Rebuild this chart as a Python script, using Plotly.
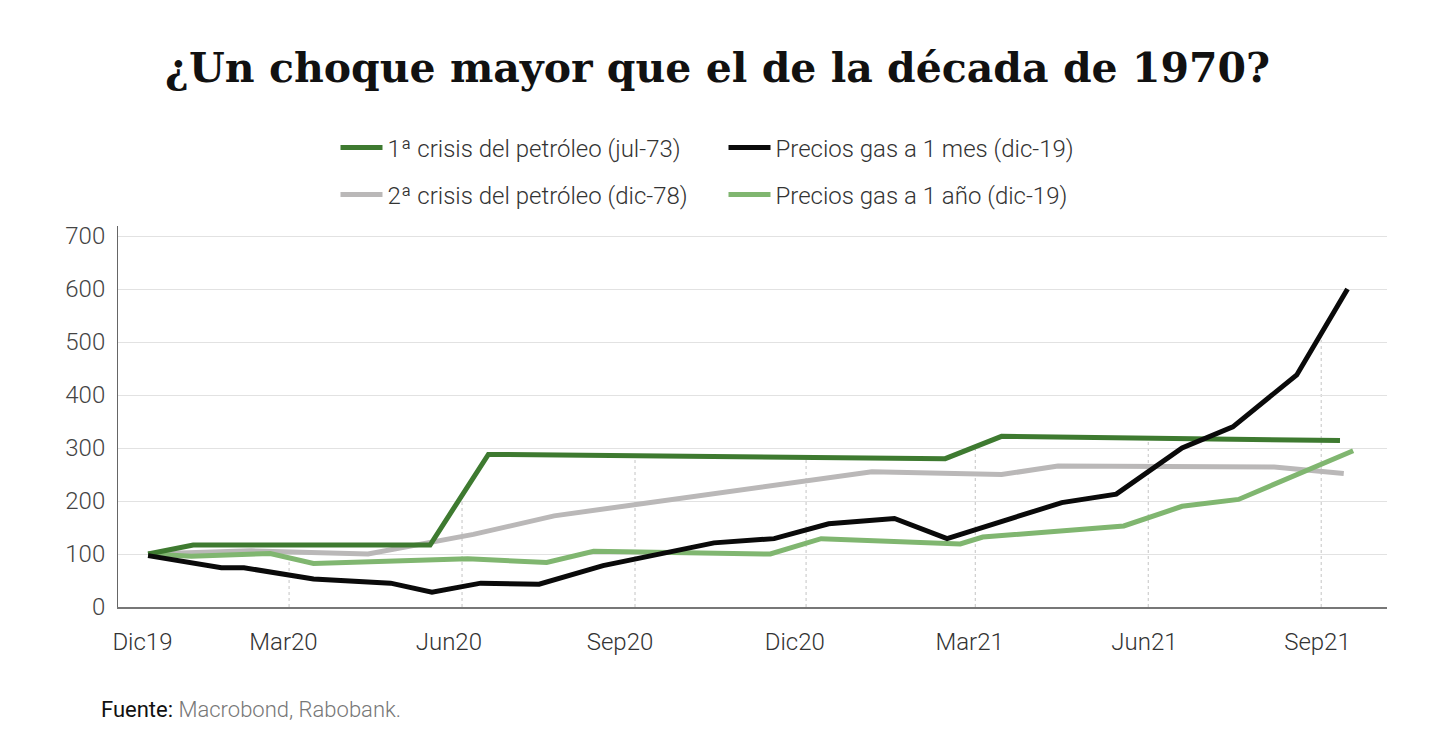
import plotly.graph_objects as go
import pandas as pd
import numpy as np

# ---- data ----
crisis1_dates = ["2019-12-17", "2020-01-10", "2020-05-15", "2020-06-15", "2021-02-13", "2021-03-15", "2021-09-11"]
crisis1_values = [100, 117, 117, 288, 280, 322, 314]

crisis2_dates = ["2019-12-17", "2020-02-10", "2020-04-12", "2020-06-07", "2020-07-20", "2021-01-05",
                 "2021-03-15", "2021-04-14", "2021-08-07", "2021-09-13"]
crisis2_values = [100, 106, 100, 137, 172, 255, 250, 266, 264, 252]

gas_month_dates = ["2019-12-17", "2020-01-25", "2020-02-06", "2020-03-14", "2020-04-24", "2020-05-16",
                   "2020-06-11", "2020-07-12", "2020-08-15", "2020-10-13", "2020-11-14", "2020-12-13",
                   "2021-01-17", "2021-02-14", "2021-04-16", "2021-05-15", "2021-06-19", "2021-07-16",
                   "2021-08-19", "2021-09-15"]
gas_month_values = [97, 74, 74, 53, 45, 28, 45, 43, 78, 121, 129, 157, 167, 129, 197, 213, 300, 340, 438, 600]

gas_year_dates = ["2019-12-17", "2020-01-09", "2020-02-20", "2020-03-14", "2020-06-04", "2020-07-16",
                  "2020-08-10", "2020-11-12", "2020-12-09", "2021-02-21", "2021-03-05", "2021-05-19",
                  "2021-06-19", "2021-07-19", "2021-09-18"]
gas_year_values = [100, 96, 101, 82, 91, 84, 105, 100, 129, 119, 132, 153, 190, 203, 295]

tick_label_dates = ["2019-12-14", "2020-02-27", "2020-05-25", "2020-08-24", "2020-11-25",
                    "2021-02-26", "2021-05-30", "2021-08-30"]
tick_labels = ["Dic19", "Mar20", "Jun20", "Sep20", "Dic20", "Mar21", "Jun21", "Sep21"]
quarter_marks = ["2020-03-01", "2020-06-01", "2020-09-01", "2020-12-01", "2021-03-01", "2021-06-01", "2021-09-01"]
y_ticks = [0, 100, 200, 300, 400, 500, 600, 700]

names = {
    "c1": "1ª crisis del petróleo (jul-73)",
    "c2": "2ª crisis del petróleo (dic-78)",
    "gm": "Precios gas a 1 mes (dic-19)",
    "gy": "Precios gas a 1 año (dic-19)",
}
colors = {"c1": "#3e7a30", "c2": "#bab8b8", "gm": "#0a0a0a", "gy": "#80b670"}

series = {
    "c2": (crisis2_dates, crisis2_values),
    "gy": (gas_year_dates, gas_year_values),
    "c1": (crisis1_dates, crisis1_values),
    "gm": (gas_month_dates, gas_month_values),
}
legend_of = {"c1": ("legend", 1), "gm": ("legend", 2), "c2": ("legend2", 1), "gy": ("legend2", 2)}

light = dict(family="Roboto", size=24, color="#333333", weight=300)

fig = go.Figure()
for key, (d, v) in series.items():
    lg, rank = legend_of[key]
    fig.add_trace(go.Scatter(
        x=d, y=v, mode="lines", name=names[key],
        line=dict(color=colors[key], width=5),
        legend=lg, legendrank=rank,
    ))

# drop lines from the axis up to the top-most series at each quarter mark
def to_num(dates):
    return pd.to_datetime(pd.Series(dates)).astype("int64").to_numpy() / 1e9

shapes = []
for q in quarter_marks:
    tq = to_num([q])[0]
    tops = []
    for d, v in series.values():
        t = to_num(d)
        if t[0] <= tq <= t[-1]:
            tops.append(np.interp(tq, t, v))
    shapes.append(dict(type="line", xref="x", yref="y", x0=q, x1=q, y0=0, y1=max(tops),
                       line=dict(color="#c4c4c4", width=1, dash="dot"), layer="below"))

legend_common = dict(orientation="h", xref="container", yref="container", x=0.2287,
                     xanchor="left", yanchor="middle", entrywidth=331, entrywidthmode="pixels",
                     itemwidth=42, font=light, bgcolor="rgba(0,0,0,0)", traceorder="normal")

fig.update_layout(
    width=1432, height=740,
    paper_bgcolor="white", plot_bgcolor="white",
    margin=dict(l=110, r=53, t=218, b=141, autoexpand=False),
    title=dict(text="¿Un choque mayor que el de la década de 1970?",
               x=0.4955, xanchor="center", xref="container",
               y=0.9196, yanchor="middle", yref="container",
               font=dict(family="DejaVu Serif", size=41, color="#111111", weight="bold")),
    shapes=shapes,
    legend=dict(y=0.8108, **legend_common),
    legend2=dict(y=0.7473, **legend_common),
    showlegend=True,
    annotations=[dict(text="<span style='font-weight:400;color:#111111'>Fuente:</span> "
                           "<span style='color:#777777'>Macrobond, Rabobank.</span>",
                      xref="paper", yref="paper", x=-0.015, y=-0.268,
                      xanchor="left", yanchor="middle", showarrow=False,
                      font=dict(family="Roboto", size=22, color="#111111", weight=300))],
)

fig.update_xaxes(type="date", range=["2019-12-01", "2021-10-06"],
                 tickmode="array", tickvals=tick_label_dates, ticktext=tick_labels,
                 showgrid=False, zeroline=False, showline=True, linecolor="#777777", linewidth=1.5,
                 ticks="", ticklabelstandoff=12,
                 tickfont=dict(family="Roboto", size=24, color="#333333", weight=300))
fig.update_yaxes(range=[0, 719], tickmode="array", tickvals=y_ticks,
                 showgrid=True, gridcolor="#e2e2e2", gridwidth=1, zeroline=False,
                 showline=True, linecolor="#666666", linewidth=1,
                 ticks="", ticklabelstandoff=7,
                 tickfont=dict(family="Roboto", size=24, color="#444444", weight=300))

fig.write_html("out.html")
